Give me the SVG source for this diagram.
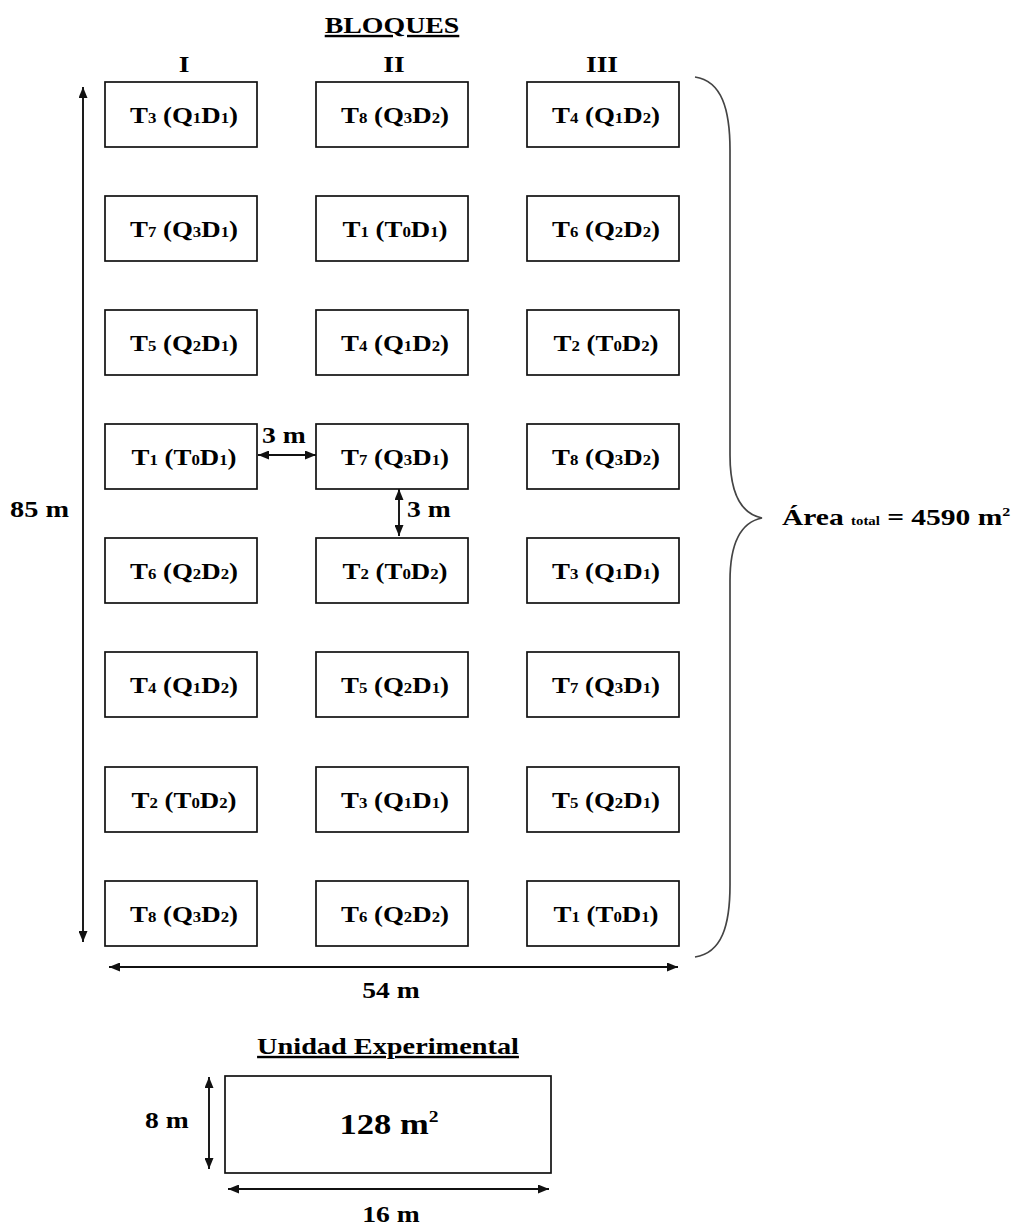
<svg xmlns="http://www.w3.org/2000/svg" width="1016" height="1226" viewBox="0 0 1016 1226">
<style>
  text { font-family: "Liberation Serif", "Times New Roman", serif; font-weight: bold; fill: #000; }
  .lbl { font-size: 24px; text-anchor: middle; }
  .s { font-size: 15px; }
  .box { fill: #fff; stroke: #111; stroke-width: 1.7; }
  .dim { stroke: #111; stroke-width: 1.9; fill: none; }
  .brace { stroke: #444; stroke-width: 1.7; fill: none; }
  .t { font-size: 24px; }
  .mid { text-anchor: middle; }
</style>
<defs>
  <marker id="ah" viewBox="0 0 11 9" refX="11" refY="4.5" markerWidth="11" markerHeight="9" markerUnits="userSpaceOnUse" orient="auto-start-reverse">
    <path d="M0,0 L11,4.5 L0,9 z" fill="#111"/>
  </marker>
</defs>
<rect width="1016" height="1226" fill="#fff"/>

<!-- headings -->
<g id="headings">
  <text class="t mid" text-decoration="underline" transform="translate(392,33) scale(1.16,1)">BLOQUES</text>
  <text class="t mid" transform="translate(184,72) scale(1.15,1)">I</text>
  <text class="t mid" transform="translate(394,72) scale(1.15,1)">II</text>
  <text class="t mid" transform="translate(602,72) scale(1.15,1)">III</text>
</g>

<!-- row 1 -->
<g id="r1c1"><rect class="box" x="105" y="82" width="152" height="65"/><text class="lbl" transform="translate(184,123) scale(1.12,1)">T<tspan class="s">3</tspan> (Q<tspan class="s">1</tspan>D<tspan class="s">1</tspan>)</text></g>
<g id="r1c2"><rect class="box" x="316" y="82" width="152" height="65"/><text class="lbl" transform="translate(395,123) scale(1.12,1)">T<tspan class="s">8</tspan> (Q<tspan class="s">3</tspan>D<tspan class="s">2</tspan>)</text></g>
<g id="r1c3"><rect class="box" x="527" y="82" width="152" height="65"/><text class="lbl" transform="translate(606,123) scale(1.12,1)">T<tspan class="s">4</tspan> (Q<tspan class="s">1</tspan>D<tspan class="s">2</tspan>)</text></g>
<!-- row 2 -->
<g id="r2c1"><rect class="box" x="105" y="196" width="152" height="65"/><text class="lbl" transform="translate(184,237) scale(1.12,1)">T<tspan class="s">7</tspan> (Q<tspan class="s">3</tspan>D<tspan class="s">1</tspan>)</text></g>
<g id="r2c2"><rect class="box" x="316" y="196" width="152" height="65"/><text class="lbl" transform="translate(395,237) scale(1.12,1)">T<tspan class="s">1</tspan> (T<tspan class="s">0</tspan>D<tspan class="s">1</tspan>)</text></g>
<g id="r2c3"><rect class="box" x="527" y="196" width="152" height="65"/><text class="lbl" transform="translate(606,237) scale(1.12,1)">T<tspan class="s">6</tspan> (Q<tspan class="s">2</tspan>D<tspan class="s">2</tspan>)</text></g>
<!-- row 3 -->
<g id="r3c1"><rect class="box" x="105" y="310" width="152" height="65"/><text class="lbl" transform="translate(184,351) scale(1.12,1)">T<tspan class="s">5</tspan> (Q<tspan class="s">2</tspan>D<tspan class="s">1</tspan>)</text></g>
<g id="r3c2"><rect class="box" x="316" y="310" width="152" height="65"/><text class="lbl" transform="translate(395,351) scale(1.12,1)">T<tspan class="s">4</tspan> (Q<tspan class="s">1</tspan>D<tspan class="s">2</tspan>)</text></g>
<g id="r3c3"><rect class="box" x="527" y="310" width="152" height="65"/><text class="lbl" transform="translate(606,351) scale(1.12,1)">T<tspan class="s">2</tspan> (T<tspan class="s">0</tspan>D<tspan class="s">2</tspan>)</text></g>
<!-- row 4 -->
<g id="r4c1"><rect class="box" x="105" y="424" width="152" height="65"/><text class="lbl" transform="translate(184,465) scale(1.12,1)">T<tspan class="s">1</tspan> (T<tspan class="s">0</tspan>D<tspan class="s">1</tspan>)</text></g>
<g id="r4c2"><rect class="box" x="316" y="424" width="152" height="65"/><text class="lbl" transform="translate(395,465) scale(1.12,1)">T<tspan class="s">7</tspan> (Q<tspan class="s">3</tspan>D<tspan class="s">1</tspan>)</text></g>
<g id="r4c3"><rect class="box" x="527" y="424" width="152" height="65"/><text class="lbl" transform="translate(606,465) scale(1.12,1)">T<tspan class="s">8</tspan> (Q<tspan class="s">3</tspan>D<tspan class="s">2</tspan>)</text></g>
<!-- row 5 -->
<g id="r5c1"><rect class="box" x="105" y="538" width="152" height="65"/><text class="lbl" transform="translate(184,579) scale(1.12,1)">T<tspan class="s">6</tspan> (Q<tspan class="s">2</tspan>D<tspan class="s">2</tspan>)</text></g>
<g id="r5c2"><rect class="box" x="316" y="538" width="152" height="65"/><text class="lbl" transform="translate(395,579) scale(1.12,1)">T<tspan class="s">2</tspan> (T<tspan class="s">0</tspan>D<tspan class="s">2</tspan>)</text></g>
<g id="r5c3"><rect class="box" x="527" y="538" width="152" height="65"/><text class="lbl" transform="translate(606,579) scale(1.12,1)">T<tspan class="s">3</tspan> (Q<tspan class="s">1</tspan>D<tspan class="s">1</tspan>)</text></g>
<!-- row 6 -->
<g id="r6c1"><rect class="box" x="105" y="652" width="152" height="65"/><text class="lbl" transform="translate(184,693) scale(1.12,1)">T<tspan class="s">4</tspan> (Q<tspan class="s">1</tspan>D<tspan class="s">2</tspan>)</text></g>
<g id="r6c2"><rect class="box" x="316" y="652" width="152" height="65"/><text class="lbl" transform="translate(395,693) scale(1.12,1)">T<tspan class="s">5</tspan> (Q<tspan class="s">2</tspan>D<tspan class="s">1</tspan>)</text></g>
<g id="r6c3"><rect class="box" x="527" y="652" width="152" height="65"/><text class="lbl" transform="translate(606,693) scale(1.12,1)">T<tspan class="s">7</tspan> (Q<tspan class="s">3</tspan>D<tspan class="s">1</tspan>)</text></g>
<!-- row 7 -->
<g id="r7c1"><rect class="box" x="105" y="767" width="152" height="65"/><text class="lbl" transform="translate(184,808) scale(1.12,1)">T<tspan class="s">2</tspan> (T<tspan class="s">0</tspan>D<tspan class="s">2</tspan>)</text></g>
<g id="r7c2"><rect class="box" x="316" y="767" width="152" height="65"/><text class="lbl" transform="translate(395,808) scale(1.12,1)">T<tspan class="s">3</tspan> (Q<tspan class="s">1</tspan>D<tspan class="s">1</tspan>)</text></g>
<g id="r7c3"><rect class="box" x="527" y="767" width="152" height="65"/><text class="lbl" transform="translate(606,808) scale(1.12,1)">T<tspan class="s">5</tspan> (Q<tspan class="s">2</tspan>D<tspan class="s">1</tspan>)</text></g>
<!-- row 8 -->
<g id="r8c1"><rect class="box" x="105" y="881" width="152" height="65"/><text class="lbl" transform="translate(184,922) scale(1.12,1)">T<tspan class="s">8</tspan> (Q<tspan class="s">3</tspan>D<tspan class="s">2</tspan>)</text></g>
<g id="r8c2"><rect class="box" x="316" y="881" width="152" height="65"/><text class="lbl" transform="translate(395,922) scale(1.12,1)">T<tspan class="s">6</tspan> (Q<tspan class="s">2</tspan>D<tspan class="s">2</tspan>)</text></g>
<g id="r8c3"><rect class="box" x="527" y="881" width="152" height="65"/><text class="lbl" transform="translate(606,922) scale(1.12,1)">T<tspan class="s">1</tspan> (T<tspan class="s">0</tspan>D<tspan class="s">1</tspan>)</text></g>

<!-- dimension connectors -->
<g id="connectors">
  <line class="dim" x1="83" y1="87" x2="83" y2="942" marker-start="url(#ah)" marker-end="url(#ah)"/>
  <line class="dim" x1="109" y1="967" x2="678" y2="967" marker-start="url(#ah)" marker-end="url(#ah)"/>
  <line class="dim" x1="258" y1="455" x2="316" y2="455" marker-start="url(#ah)" marker-end="url(#ah)"/>
  <line class="dim" x1="399" y1="489" x2="399" y2="536" marker-start="url(#ah)" marker-end="url(#ah)"/>
  <path class="brace" d="M695,77 C722,81 730,110 730,150 L730,455 C730,495 742,514 762,518 C742,522 730,541 730,581 L730,885 C730,925 722,953 695,957"/>
  <line class="dim" x1="209" y1="1077" x2="209" y2="1169" marker-start="url(#ah)" marker-end="url(#ah)"/>
  <line class="dim" x1="228" y1="1189" x2="549" y2="1189" marker-start="url(#ah)" marker-end="url(#ah)"/>
</g>

<!-- dimension labels -->
<g id="labels">
  <text class="t" transform="translate(262,443) scale(1.15,1)">3 m</text>
  <text class="t" transform="translate(407,517) scale(1.15,1)">3 m</text>
  <text class="t" transform="translate(10,517) scale(1.18,1)">85 m</text>
  <text class="t mid" transform="translate(391,998) scale(1.15,1)">54 m</text>
  <text class="t" transform="translate(782,525) scale(1.23,1)">Área <tspan font-size="12px">total</tspan> = 4590 m<tspan font-size="13px" dy="-9">2</tspan></text>
</g>

<!-- experimental unit -->
<g id="unidad">
  <text class="t mid" text-decoration="underline" transform="translate(388,1054) scale(1.18,1)">Unidad Experimental</text>
  <rect class="box" x="225" y="1076" width="326" height="97"/>
  <text class="mid" font-size="30px" transform="translate(389,1134) scale(1.15,1)">128 m<tspan font-size="17px" dy="-12">2</tspan></text>
  <text class="t" transform="translate(145,1128) scale(1.15,1)">8 m</text>
  <text class="t mid" transform="translate(391,1222) scale(1.15,1)">16 m</text>
</g>
</svg>
